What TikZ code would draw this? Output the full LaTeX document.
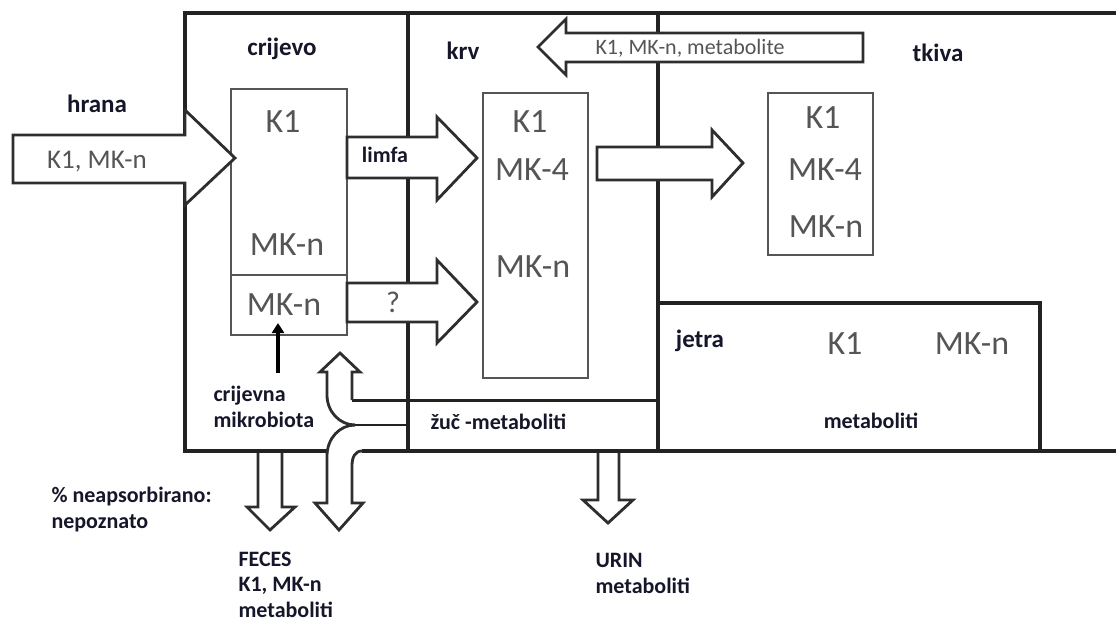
\documentclass[tikz,border=0pt]{standalone}
\usepackage{fontspec}
\setmainfont{Carlito}
\usetikzlibrary{arrows.meta}

\definecolor{frame}{HTML}{222222}
\definecolor{boxgray}{HTML}{555555}
\definecolor{arrline}{HTML}{2E2E2E}
\definecolor{txtgray}{HTML}{555555}
\definecolor{lbl}{HTML}{16162A}

\begin{document}
\begin{tikzpicture}[x=1pt,y=-1pt]
\useasboundingbox (0,0) rectangle (1116,621);

\begin{scope}[draw=frame, line width=4pt]
    \draw (327,451) -- (185,451) -- (185,13) -- (1116,13);
    \draw (362,451) -- (1116,451);
    \draw (408,13) -- (408,451);
    \draw (658,13) -- (658,451);
    \draw (658,303) -- (1040,303) -- (1040,451);
    \draw[line width=3pt] (352,400) -- (658,400);
    \draw[line width=2.5pt] (355,425) -- (408,425);
\end{scope}

\begin{scope}[every node/.style={draw=boxgray, line width=2pt, inner sep=0pt}]
    \node[minimum width=116pt, minimum height=186pt] (cbox) at (289,182)   {};
    \node[minimum width=116pt, minimum height=60pt]  (mbox) at (289,305)   {};
    \node[minimum width=105pt, minimum height=285pt] (kbox) at (535.5,235.5) {};
    \node[minimum width=105pt, minimum height=162pt] (tbox) at (820.5,174) {};
\end{scope}

\begin{scope}[draw=arrline, fill=white, line width=2.8pt]
    \filldraw (13,135) -- (185,135) -- (185,110) -- (235,158) -- (185,205) -- (185,183) -- (13,183) -- cycle;
    \filldraw (347,137) -- (437,137) -- (437,117) -- (477,158) -- (437,200) -- (437,178) -- (347,178) -- cycle;
    \filldraw (347,283) -- (437,283) -- (437,260) -- (477,302) -- (437,343) -- (437,322) -- (347,322) -- cycle;
    \filldraw (597,147) -- (712,147) -- (712,130) -- (743,163) -- (712,197) -- (712,180) -- (597,180) -- cycle;
    \filldraw (863,33) -- (566,33) -- (566,19) -- (538,47) -- (566,75) -- (566,62) -- (863,62) -- cycle;
    \filldraw (258,453) -- (258,507) -- (247,507) -- (270,530) -- (295,507) -- (282,507) -- (282,453);
    \filldraw (598,453) -- (598,500) -- (583,500) -- (608,523) -- (633,500) -- (619,500) -- (619,453);
    \draw (362,451) .. controls (355,451) and (352,457) .. (352,466) -- (352,503) -- (363,503) -- (339,530)
          -- (315,503) -- (327,503) -- (327,456) .. controls (327,438) and (340,425) .. (355,425);
    \draw (355,425) .. controls (340,425) and (327,412) .. (327,395) -- (327,372) -- (320,372) -- (340,353)
          -- (360,372) -- (352,372) -- (352,400);
\end{scope}

\begin{scope}[every node/.style={text=txtgray, anchor=base, font=\fontsize{34}{34}\selectfont}]
    \node (c1) at (283,132) {K1};
    \node (c2) at (287,255) {MK-n};
    \node (c3) at (284,315) {MK-n};
    \node (k1) at (530,132) {K1};
    \node (k2) at (532,180) {MK-4};
    \node (k3) at (533,277) {MK-n};
    \node (t1) at (823,128) {K1};
    \node (t2) at (825,180) {MK-4};
    \node (t3) at (826,237) {MK-n};
    \node (j1) at (845,354) {K1};
    \node (j2) at (972,354) {MK-n};
    \node[font=\fontsize{27}{27}\selectfont] (hin) at (97,168) {K1, MK-n};
    \node[font=\fontsize{30}{30}\selectfont] (q) at (393,312) {?};
    \node[anchor=base west, font=\fontsize{22}{22}\selectfont] (back) at (592,54) {K1, MK-n, metabolite};
\end{scope}

\begin{scope}[every node/.style={text=lbl, anchor=base, font=\bfseries\fontsize{25}{25}\selectfont}]
    \node (hrana)   at (97,112)  {hrana};
    \node (crijevo) at (282,55)  {crijevo};
    \node (krv)     at (463,59)  {krv};
    \node (tkiva)   at (938,61)  {tkiva};
    \node (jetra)   at (700,347) {jetra};
\end{scope}

\begin{scope}[every node/.style={text=lbl, anchor=base west, align=left, font=\bfseries\fontsize{22}{25.5}\selectfont}]
    \node[anchor=base] (limfa) at (385,162) {limfa};
    \node (mikro) at (210,427) {crijevna\\mikrobiota};
    \node (zuc)   at (427,429) {žuč -metaboliti};
    \node[anchor=base] (jmet) at (871,428) {metaboliti};
    \node (neaps) at (48,528)  {\% neapsorbirano:\\nepoznato};
    \node (feces) at (235,617) {FECES\\K1, MK-n\\metaboliti};
    \node (urin)  at (592,593) {URIN\\metaboliti};
\end{scope}

\coordinate (mb) at (278,373);
\draw[line width=3.5pt, draw=black, shorten >=-13pt, -{Triangle[length=10pt,width=12pt]}] (mb) -- (mb |- mbox.south);
\end{tikzpicture}
\end{document}
